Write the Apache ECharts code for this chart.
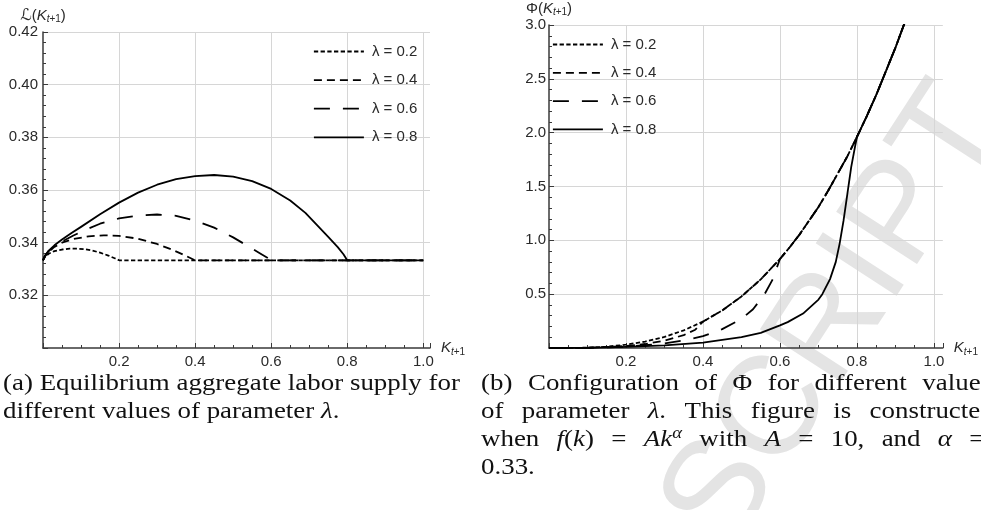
<!DOCTYPE html>
<html><head><meta charset="utf-8">
<script src="https://cdn.jsdelivr.net/npm/echarts@6/dist/echarts.min.js"></script>
<style>html,body{margin:0;padding:0;background:#fff}#c{width:981px;height:510px}</style>
</head><body><div id="c"></div>
<script>
// ---------- DATA ----------
const seriesNames = ['λ = 0.2', 'λ = 0.4', 'λ = 0.6', 'λ = 0.8'];
const lambdas = [0.2, 0.4, 0.6, 0.8];

// Panel (a): equilibrium aggregate labour supply L(K)
const aK02 = [0, 0.005, 0.015, 0.03, 0.05, 0.07, 0.09, 0.11, 0.13, 0.15, 0.17, 0.19, 0.2, 1.0];
const aL02 = [0.3333, 0.3345, 0.3358, 0.3368, 0.3374, 0.3377, 0.3377, 0.3375, 0.3370, 0.3362, 0.3352, 0.3340, 0.3333, 0.3333];
const aK04 = [0, 0.005, 0.015, 0.03, 0.05, 0.08, 0.12, 0.16, 0.2, 0.25, 0.3, 0.34, 0.37, 0.39, 0.4, 1.0];
const aL04 = [0.3333, 0.3348, 0.3365, 0.3384, 0.3400, 0.3414, 0.3424, 0.3428, 0.3426, 0.3415, 0.3395, 0.3373, 0.3354, 0.3340, 0.3333, 0.3333];
const aK06 = [0, 0.005, 0.015, 0.03, 0.05, 0.08, 0.11, 0.15, 0.2, 0.25, 0.3, 0.35, 0.4, 0.45, 0.5, 0.54, 0.57, 0.59, 0.6, 1.0];
const aL06 = [0.3333, 0.3350, 0.3368, 0.3386, 0.3404, 0.3427, 0.3448, 0.3472, 0.3492, 0.3503, 0.3507, 0.3502, 0.3484, 0.3457, 0.3420, 0.3386, 0.3360, 0.3343, 0.3333, 0.3333];
const aK08 = [0, 0.005, 0.015, 0.03, 0.05, 0.075, 0.1, 0.15, 0.2, 0.25, 0.3, 0.35, 0.4, 0.45, 0.5, 0.55, 0.6, 0.65, 0.69, 0.72, 0.75, 0.775, 0.79, 0.8, 1.0];
const aL08 = [0.3333, 0.3350, 0.3370, 0.3390, 0.3412, 0.3437, 0.3460, 0.3508, 0.3552, 0.3590, 0.3620, 0.3641, 0.3653, 0.3657, 0.3651, 0.3634, 0.3604, 0.3560, 0.3513, 0.3468, 0.3422, 0.3383, 0.3356, 0.3333, 0.3333];

// Panel (b): upper envelope of Phi (followed by each lambda beyond K = lambda)
const envK   = [0.2, 0.25, 0.3, 0.35, 0.4, 0.45, 0.5, 0.55, 0.6, 0.625, 0.65, 0.675, 0.7, 0.725, 0.75, 0.775, 0.8, 0.825, 0.85, 0.875, 0.9, 0.93];
const envPhi = [0.031, 0.060, 0.103, 0.164, 0.245, 0.349, 0.479, 0.637, 0.827, 0.935, 1.05, 1.18, 1.31, 1.46, 1.62, 1.78, 1.96, 2.15, 2.35, 2.57, 2.79, 3.08];
// lower branches (K <= lambda)
const bK02 = [0, 0.05, 0.1, 0.15, 0.2];
const bP02 = [0, 0.0005, 0.003, 0.012, 0.031];
const bK04 = [0, 0.1, 0.2, 0.25, 0.3, 0.35, 0.38, 0.4];
const bP04 = [0, 0.002, 0.018, 0.037, 0.068, 0.12, 0.17, 0.245];
const bK06 = [0, 0.1, 0.2, 0.3, 0.35, 0.4, 0.45, 0.5, 0.53, 0.56, 0.58, 0.6];
const bP06 = [0, 0.002, 0.012, 0.042, 0.07, 0.11, 0.175, 0.27, 0.36, 0.5, 0.63, 0.827];
const bK08 = [0, 0.1, 0.2, 0.3, 0.4, 0.5, 0.55, 0.6, 0.62, 0.66, 0.7, 0.71, 0.73, 0.745, 0.755, 0.765, 0.775, 0.785, 0.795, 0.8];
const bP08 = [0, 0.002, 0.01, 0.025, 0.05, 0.10, 0.14, 0.21, 0.24, 0.32, 0.45, 0.50, 0.64, 0.80, 0.97, 1.18, 1.43, 1.68, 1.87, 1.96];

// Captions (text only)
const capA = ['(a) Equilibrium aggregate labor supply for', 'different values of parameter {i|λ}.'];
const capB = ['(b) Configuration of Φ for different values', 'of parameter {i|λ}. This figure is constructed',
  'when {i|f}({i|k}) = {i|Ak}{sup|α} with {i|A} = 10, and {i|α} =', '0.33.'];

// ---------- BUILD ----------
const zip = (xs, ys) => xs.map((x, i) => [x, ys[i]]);
const panelA = [zip(aK02, aL02), zip(aK04, aL04), zip(aK06, aL06), zip(aK08, aL08)];
const lowerB = [zip(bK02, bP02), zip(bK04, bP04), zip(bK06, bP06), zip(bK08, bP08)];
const panelB = lowerB.map((low, i) => low.concat(zip(envK, envPhi).filter(p => p[0] > lambdas[i] + 1e-9)));

const dashes = [[4.3, 2.4], [8, 5], [16, 13], 'solid'];
const LW = 1.8;
const SANS = '"Liberation Sans", Arial, sans-serif';
const SERIF = '"Liberation Serif", "DejaVu Serif", serif';
const AX = '#3a3a3a', GRID = '#d6d6d6', LBL = '#2a2a2a';

const nameRich = {
  n: {fontFamily: SANS, fontSize: 15, color: LBL},
  l: {fontFamily: '"DejaVu Sans", sans-serif', fontSize: 16, color: LBL},
  k: {fontFamily: SANS, fontSize: 15, fontStyle: 'italic', color: LBL},
  si: {fontFamily: SANS, fontSize: 10, fontStyle: 'italic', color: LBL, padding: [8, 0, 0, 0]},
  s: {fontFamily: SANS, fontSize: 10, color: LBL, padding: [8, 0, 0, 0]}
};

function xAxisOf(grid, max) {
  return {
    gridIndex: grid, type: 'value', min: 0, max: max, interval: 0.2,
    name: '{k|K}{si|t}{s|+1}', nameLocation: 'end', nameGap: 11,
    nameTextStyle: {rich: nameRich, verticalAlign: 'middle'},
    axisLine: {show: true, onZero: false, lineStyle: {color: AX, width: 1.5}},
    axisTick: {show: true, inside: true, length: 5, lineStyle: {color: AX, width: 1}},
    minorTick: {show: true, splitNumber: 4, length: 3, lineStyle: {color: AX, width: 1}},
    splitLine: {show: true, showMinLine: false, showMaxLine: false, lineStyle: {color: GRID, width: 1}},
    axisLabel: {fontFamily: SANS, fontSize: 15, color: LBL, margin: 6, showMinLabel: false,
      formatter: v => (v > 0.01 && Math.abs(v * 5 - Math.round(v * 5)) < 1e-6 && v <= 1.0001) ? v.toFixed(1) : ''}
  };
}
function yAxisOf(grid, min, max, interval, dec, name, minor, margin) {
  return {
    gridIndex: grid, type: 'value', min: min, max: max, interval: interval,
    name: name, nameLocation: 'end', nameGap: 0,
    nameTextStyle: {rich: nameRich, align: 'center'},
    axisLine: {show: true, onZero: false, lineStyle: {color: AX, width: 1.5}},
    axisTick: {show: true, inside: true, length: 5, lineStyle: {color: AX, width: 1}},
    minorTick: {show: true, splitNumber: minor, length: 3, lineStyle: {color: AX, width: 1}},
    splitLine: {show: true, showMinLine: false, lineStyle: {color: GRID, width: 1}},
    axisLabel: {fontFamily: SANS, fontSize: 15, color: LBL, margin: margin, showMinLabel: false,
      formatter: v => v.toFixed(dec)}
  };
}

const series = [];
panelA.forEach((d, i) => series.push({
  name: seriesNames[i], type: 'line', xAxisIndex: 0, yAxisIndex: 0, data: d,
  symbol: 'none', showSymbol: false, clip: true, z: 3 + i,
  lineStyle: {color: '#000', width: LW, type: dashes[i], cap: 'butt', join: 'round'}
}));
panelB.forEach((d, i) => series.push({
  name: seriesNames[i], type: 'line', xAxisIndex: 1, yAxisIndex: 1, data: d,
  symbol: 'none', showSymbol: false, clip: true, z: 3 + i,
  lineStyle: {color: '#000', width: LW, type: dashes[i], cap: 'butt', join: 'round'}
}));

const CAP_FS = 23;
function capRich(gap) {
  return {
    i: {fontFamily: SERIF, fontSize: CAP_FS, fontStyle: 'italic', fill: '#111'},
    sup: {fontFamily: SERIF, fontSize: 16, fontStyle: 'italic', fill: '#111', padding: [0, 0, 12, 0]},
    w: {fontFamily: SERIF, fontSize: CAP_FS, fill: '#111', width: gap}
  };
}
const graphics = [];
graphics.push({type: 'text', x: 836, y: 318, rotation: 57 * Math.PI / 180, z: -10, silent: true,
  style: {text: 'SCRIPT', fontFamily: SANS, fontSize: 140, fill: '#e4e4e4',
    align: 'center', verticalAlign: 'middle', textAlign: 'center', textVerticalAlign: 'middle'}});
function addCaption(lines, x, y0, sx, gaps) {
  lines.forEach((t, i) => graphics.push({type: 'text', x: x, y: y0 + i * 28, scaleX: sx, z: 10, silent: true,
    style: {text: t.split(' ').join('{w| }'), rich: capRich(gaps[i]), fontFamily: SERIF, fontSize: CAP_FS, fill: '#111',
      verticalAlign: 'middle', textVerticalAlign: 'middle'}}));
}
addCaption(capA, 3, 384, 1.17, [5.8, 5.8]);
addCaption(capB, 481, 384, 1.17, [13.3, 15.7, 14.8, 6]);

const legendCommon = {
  data: seriesNames, orient: 'vertical', itemWidth: 50, itemHeight: 16, padding: 0,
  selectedMode: false,
  lineStyle: {width: LW},
  itemStyle: {color: 'rgba(0,0,0,0)', borderWidth: 0, opacity: 0},
  textStyle: {fontFamily: SANS, fontSize: 15, color: LBL, padding: [0, 0, 0, 3]}
};

const option = {
  animation: false,
  backgroundColor: '#fff',
  grid: [
    {left: 43, top: 32, width: 387, height: 316, containLabel: false},
    {left: 549, top: 25, width: 396, height: 323, containLabel: false}
  ],
  xAxis: [xAxisOf(0, 1.0176), xAxisOf(1, 1.023)],
  yAxis: [
    yAxisOf(0, 0.30, 0.42, 0.02, 2, '{l|ℒ}{n|(}{k|K}{si|t}{s|+1}{n|)}', 5, 5),
    yAxisOf(1, 0, 3.0, 0.5, 1, '{n|Φ(}{k|K}{si|t}{s|+1}{n|)}', 5, 3)
  ],
  legend: [
    Object.assign({left: 313, top: 44, itemGap: 13.6}, legendCommon),
    Object.assign({left: 552, top: 37, itemGap: 13.3}, legendCommon)
  ],
  series: series,
  graphic: graphics
};
const chart = echarts.init(document.getElementById('c'), null, {renderer: 'canvas'});
chart.setOption(option);
</script></body></html>
